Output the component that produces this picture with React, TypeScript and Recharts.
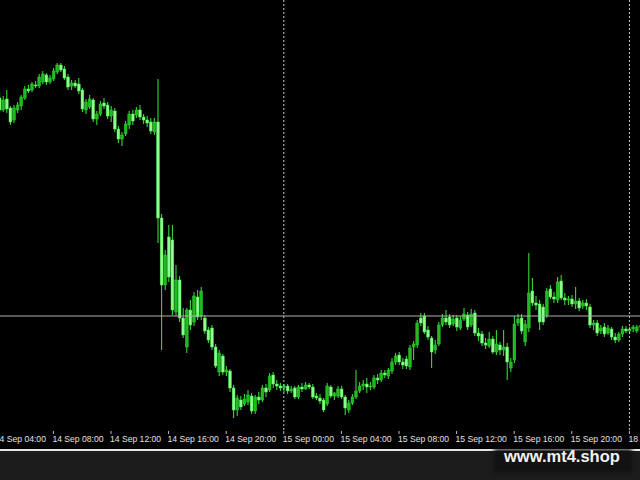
import React from "react";
import { ComposedChart, Bar, XAxis, YAxis, ReferenceLine } from "recharts";

// M15 candles, [open, high, low, close]
const bars: [number, number, number, number][] = [
  [0.9300, 0.9305, 0.9292, 0.9297], [0.9302, 0.9308, 0.9288, 0.9290], [0.9290, 0.9304, 0.9288, 0.9300], [0.9301, 0.9310, 0.9287, 0.9291],
  [0.9292, 0.9294, 0.9275, 0.9278], [0.9280, 0.9295, 0.9277, 0.9292], [0.9290, 0.9298, 0.9287, 0.9295], [0.9294, 0.9305, 0.9290, 0.9303],
  [0.9302, 0.9314, 0.9300, 0.9311], [0.9311, 0.9315, 0.9307, 0.9309], [0.9310, 0.9318, 0.9308, 0.9316], [0.9315, 0.9319, 0.9312, 0.9314],
  [0.9314, 0.9326, 0.9312, 0.9323], [0.9318, 0.9329, 0.9316, 0.9326], [0.9325, 0.9327, 0.9315, 0.9318], [0.9318, 0.9325, 0.9316, 0.9322],
  [0.9321, 0.9332, 0.9319, 0.9329], [0.9328, 0.9337, 0.9326, 0.9335], [0.9335, 0.9337, 0.9328, 0.9330], [0.9331, 0.9334, 0.9320, 0.9322],
  [0.9323, 0.9326, 0.9310, 0.9313], [0.9314, 0.9320, 0.9310, 0.9317], [0.9317, 0.9320, 0.9312, 0.9314], [0.9316, 0.9322, 0.9306, 0.9309],
  [0.9310, 0.9312, 0.9288, 0.9291], [0.9290, 0.9301, 0.9286, 0.9298], [0.9293, 0.9305, 0.9291, 0.9301], [0.9300, 0.9302, 0.9278, 0.9281],
  [0.9281, 0.9289, 0.9275, 0.9286], [0.9286, 0.9299, 0.9284, 0.9296], [0.9297, 0.9302, 0.9291, 0.9294], [0.9295, 0.9298, 0.9281, 0.9284],
  [0.9284, 0.9294, 0.9278, 0.9290], [0.9289, 0.9292, 0.9268, 0.9271], [0.9271, 0.9274, 0.9257, 0.9261], [0.9261, 0.9268, 0.9254, 0.9265],
  [0.9266, 0.9279, 0.9264, 0.9276], [0.9275, 0.9289, 0.9271, 0.9286], [0.9286, 0.9290, 0.9275, 0.9279], [0.9285, 0.9293, 0.9282, 0.9290],
  [0.9290, 0.9295, 0.9280, 0.9283], [0.9283, 0.9286, 0.9276, 0.9280], [0.9280, 0.9284, 0.9273, 0.9277], [0.9278, 0.9282, 0.9266, 0.9269],
  [0.9268, 0.9282, 0.9265, 0.9278], [0.9278, 0.9321, 0.9157, 0.9182], [0.9182, 0.9186, 0.9050, 0.9115], [0.9115, 0.9150, 0.9110, 0.9145],
  [0.9163, 0.9175, 0.9118, 0.9123], [0.9160, 0.9175, 0.9085, 0.9090], [0.9088, 0.9135, 0.9084, 0.9120], [0.9120, 0.9124, 0.9078, 0.9082],
  [0.9082, 0.9092, 0.9062, 0.9065], [0.9053, 0.9092, 0.9047, 0.9090], [0.9090, 0.9100, 0.9070, 0.9075], [0.9078, 0.9108, 0.9074, 0.9104],
  [0.9103, 0.9110, 0.9080, 0.9083], [0.9084, 0.9113, 0.9080, 0.9109], [0.9082, 0.9085, 0.9066, 0.9069], [0.9070, 0.9073, 0.9057, 0.9060],
  [0.9072, 0.9075, 0.9050, 0.9053], [0.9053, 0.9056, 0.9032, 0.9034], [0.9028, 0.9050, 0.9024, 0.9047], [0.9044, 0.9046, 0.9025, 0.9028],
  [0.9028, 0.9034, 0.9024, 0.9030], [0.9029, 0.9031, 0.9008, 0.9012], [0.9012, 0.9015, 0.8982, 0.8990], [0.8990, 0.9005, 0.8984, 0.9002],
  [0.9000, 0.9004, 0.8990, 0.8993], [0.8996, 0.9006, 0.8994, 0.9001], [0.8998, 0.9010, 0.8995, 0.9005], [0.9004, 0.9007, 0.8986, 0.8989],
  [0.8989, 0.9005, 0.8986, 0.9003], [0.9003, 0.9008, 0.8996, 0.9000], [0.9000, 0.9015, 0.8998, 0.9012], [0.9012, 0.9016, 0.9003, 0.9008],
  [0.9010, 0.9027, 0.9008, 0.9024], [0.9025, 0.9028, 0.9012, 0.9016], [0.9016, 0.9020, 0.9010, 0.9014], [0.9014, 0.9017, 0.9009, 0.9012],
  [0.9012, 0.9016, 0.9008, 0.9014], [0.9014, 0.9016, 0.9006, 0.9009], [0.9009, 0.9014, 0.9007, 0.9011], [0.9012, 0.9014, 0.9001, 0.9003],
  [0.9003, 0.9015, 0.9001, 0.9013], [0.9013, 0.9017, 0.9008, 0.9011], [0.9011, 0.9018, 0.9010, 0.9015], [0.9015, 0.9017, 0.9011, 0.9013],
  [0.9013, 0.9016, 0.9001, 0.9003], [0.9004, 0.9007, 0.9000, 0.9002], [0.9002, 0.9006, 0.8996, 0.8999], [0.9000, 0.9002, 0.8988, 0.8990],
  [0.8996, 0.9017, 0.8994, 0.9014], [0.9013, 0.9015, 0.9002, 0.9004], [0.9004, 0.9008, 0.9000, 0.9007], [0.9004, 0.9014, 0.9002, 0.9011],
  [0.9011, 0.9014, 0.9001, 0.9003], [0.9003, 0.9005, 0.8985, 0.8992], [0.8990, 0.9000, 0.8987, 0.8997], [0.8997, 0.9006, 0.8995, 0.9003],
  [0.9003, 0.9030, 0.9001, 0.9009], [0.9009, 0.9018, 0.9007, 0.9014], [0.9014, 0.9020, 0.9010, 0.9016], [0.9016, 0.9022, 0.9007, 0.9013],
  [0.9013, 0.9018, 0.9010, 0.9014], [0.9013, 0.9025, 0.9011, 0.9022], [0.9022, 0.9026, 0.9016, 0.9020], [0.9020, 0.9030, 0.9018, 0.9027],
  [0.9027, 0.9030, 0.9022, 0.9025], [0.9024, 0.9032, 0.9021, 0.9030], [0.9029, 0.9042, 0.9026, 0.9038], [0.9038, 0.9047, 0.9035, 0.9044],
  [0.9045, 0.9048, 0.9035, 0.9038], [0.9038, 0.9042, 0.9031, 0.9035], [0.9041, 0.9044, 0.9031, 0.9034], [0.9033, 0.9055, 0.9030, 0.9052],
  [0.9053, 0.9059, 0.9040, 0.9056], [0.9055, 0.9080, 0.9052, 0.9077], [0.9082, 0.9087, 0.9074, 0.9077], [0.9084, 0.9087, 0.9066, 0.9068],
  [0.9070, 0.9074, 0.9060, 0.9063], [0.9062, 0.9064, 0.9032, 0.9048], [0.9050, 0.9060, 0.9046, 0.9055], [0.9056, 0.9078, 0.9054, 0.9075],
  [0.9075, 0.9086, 0.9073, 0.9082], [0.9082, 0.9090, 0.9075, 0.9078], [0.9083, 0.9086, 0.9072, 0.9075], [0.9076, 0.9085, 0.9074, 0.9081],
  [0.9082, 0.9085, 0.9069, 0.9073], [0.9072, 0.9084, 0.9070, 0.9080], [0.9081, 0.9092, 0.9079, 0.9086], [0.9085, 0.9088, 0.9070, 0.9073],
  [0.9075, 0.9091, 0.9073, 0.9086], [0.9087, 0.9090, 0.9064, 0.9067], [0.9067, 0.9072, 0.9059, 0.9064], [0.9066, 0.9069, 0.9054, 0.9057],
  [0.9057, 0.9062, 0.9051, 0.9055], [0.9054, 0.9068, 0.9052, 0.9061], [0.9061, 0.9064, 0.9046, 0.9048], [0.9048, 0.9070, 0.9045, 0.9056],
  [0.9055, 0.9058, 0.9045, 0.9050], [0.9050, 0.9070, 0.9044, 0.9053], [0.9053, 0.9057, 0.9020, 0.9038], [0.9032, 0.9042, 0.9028, 0.9038],
  [0.9040, 0.9084, 0.9037, 0.9076], [0.9077, 0.9086, 0.9074, 0.9081], [0.9082, 0.9086, 0.9066, 0.9069], [0.9058, 0.9080, 0.9054, 0.9076],
  [0.9072, 0.9147, 0.9068, 0.9107], [0.9109, 0.9122, 0.9094, 0.9097], [0.9097, 0.9104, 0.9090, 0.9095], [0.9096, 0.9100, 0.9070, 0.9078],
  [0.9093, 0.9096, 0.9075, 0.9078], [0.9085, 0.9112, 0.9082, 0.9109], [0.9111, 0.9115, 0.9101, 0.9103], [0.9103, 0.9108, 0.9097, 0.9101],
  [0.9100, 0.9123, 0.9097, 0.9118], [0.9119, 0.9125, 0.9100, 0.9102], [0.9102, 0.9107, 0.9095, 0.9100], [0.9100, 0.9104, 0.9095, 0.9101],
  [0.9101, 0.9105, 0.9093, 0.9096], [0.9096, 0.9113, 0.9091, 0.9099], [0.9099, 0.9102, 0.9089, 0.9092], [0.9094, 0.9100, 0.9091, 0.9097],
  [0.9097, 0.9101, 0.9090, 0.9094], [0.9093, 0.9096, 0.9072, 0.9075], [0.9075, 0.9080, 0.9070, 0.9077], [0.9077, 0.9080, 0.9064, 0.9067],
  [0.9069, 0.9075, 0.9066, 0.9072], [0.9073, 0.9077, 0.9063, 0.9066], [0.9067, 0.9075, 0.9065, 0.9072], [0.9071, 0.9073, 0.9060, 0.9063],
  [0.9063, 0.9067, 0.9057, 0.9060], [0.9060, 0.9068, 0.9058, 0.9066], [0.9066, 0.9074, 0.9063, 0.9071], [0.9071, 0.9074, 0.9067, 0.9069],
  [0.9069, 0.9073, 0.9066, 0.9071], [0.9071, 0.9075, 0.9068, 0.9073], [0.9069, 0.9075, 0.9067, 0.9073], [0.9073, 0.9076, 0.9070, 0.9074],
];

// trading sessions shown: first bar time and bar count
const sessions = [
  { day: "14 Sep", start: "04:00", count: 80 },
  { day: "15 Sep", start: "00:00", count: 96 },
  { day: "18 Sep", start: "00:00", count: 4 },
];

const tickLabels = [
  "14 Sep 04:00", "14 Sep 08:00", "14 Sep 12:00", "14 Sep 16:00", "14 Sep 20:00",
  "15 Sep 00:00", "15 Sep 04:00", "15 Sep 08:00", "15 Sep 12:00", "15 Sep 16:00", "15 Sep 20:00",
  "18 Sep 00:00",
];

const daySeparators = ["15 Sep 00:00", "18 Sep 00:00"];
const lastLevel = 0.9084;

const times: string[] = [];
sessions.forEach((s) => {
  const [hh, mm] = s.start.split(":").map(Number);
  for (let k = 0; k < s.count; k++) {
    const m = hh * 60 + mm + k * 15;
    const h = String(Math.floor(m / 60)).padStart(2, "0");
    const mi = String(m % 60).padStart(2, "0");
    times.push(`${s.day} ${h}:${mi}`);
  }
});

const data = bars.map(([open, high, low, close], i) => ({
  time: times[i],
  open,
  high,
  low,
  close,
  range: [low, high],
}));

function Candle(props: any) {
  const { x, y, width, height, payload } = props;
  if (x == null || y == null) return null;
  const top = Math.min(y, y + height);
  const bottom = Math.max(y, y + height);
  const span = payload.high - payload.low;
  const py = (p: number) => (span === 0 ? top : top + ((payload.high - p) / span) * (bottom - top));
  const cx = x + width / 2;
  const bull = payload.close >= payload.open;
  const bTop = py(Math.max(payload.open, payload.close));
  const bBot = py(Math.min(payload.open, payload.close));
  return (
    <g>
      <line x1={cx} x2={cx} y1={top} y2={bottom} stroke="#36d836" strokeWidth={1.1} />
      <rect
        x={cx - 1.4}
        y={bTop}
        width={2.8}
        height={Math.max(1, bBot - bTop)}
        fill={bull ? "#22b822" : "#90ff90"}
        stroke={bull ? "#2ccc2c" : "#4ae84a"}
        strokeWidth={0.5}
      />
    </g>
  );
}

function TimeTick(props: any) {
  const { x, payload } = props;
  return (
    <g>
      <line x1={x} x2={x} y1={431} y2={434} stroke="#bdbdbd" />
      <text x={x - 1} y={442} textAnchor="start" fill="#e2e2e2" fontSize={8.6} fontFamily="Liberation Sans, Arial, sans-serif">
        {payload.value}
      </text>
    </g>
  );
}

export default function App() {
  return (
    <div style={{ position: "fixed", left: 0, top: 0, width: 640, height: 480, overflow: "hidden", background: "#1c1c1c" }}>
      <div style={{ position: "absolute", left: 0, top: 0, width: 640, height: 449, background: "#000" }} />
      <div style={{ position: "absolute", left: -6.1, top: 0 }}>
        <ComposedChart width={648} height={449} data={data} margin={{ top: 0, right: 0, bottom: 0, left: 0 }} barCategoryGap={0}>
          <XAxis
            dataKey="time"
            ticks={tickLabels}
            interval={0}
            tick={<TimeTick />}
            tickLine={false}
            axisLine={false}
            height={19}
          />
          <YAxis hide domain={[0.897, 0.94]} allowDataOverflow />
          <Bar dataKey="range" shape={<Candle />} isAnimationActive={false} />
          {daySeparators.map((t) => (
            <ReferenceLine key={t} x={t} stroke="#c8c8c8" strokeDasharray="2 2" />
          ))}
          <ReferenceLine y={lastLevel} stroke="#b0b0b0" />
        </ComposedChart>
      </div>
      <div style={{ position: "absolute", left: 0, top: 449, width: 640, height: 2, background: "#e6e6e6" }} />
      <div
        style={{
          position: "absolute",
          left: 496,
          top: 451,
          width: 134,
          height: 19,
          background: "#121212",
          boxShadow: "0 0 4px 2px #121212",
        }}
      />
      <div
        style={{
          position: "absolute",
          left: 504,
          top: 447,
          fontFamily: "Liberation Sans, Arial, sans-serif",
          fontWeight: "bold",
          fontSize: 16.5,
          lineHeight: "18px",
          color: "#f2f2f2",
          whiteSpace: "nowrap",
        }}
      >
        www.mt4.shop
      </div>
    </div>
  );
}
